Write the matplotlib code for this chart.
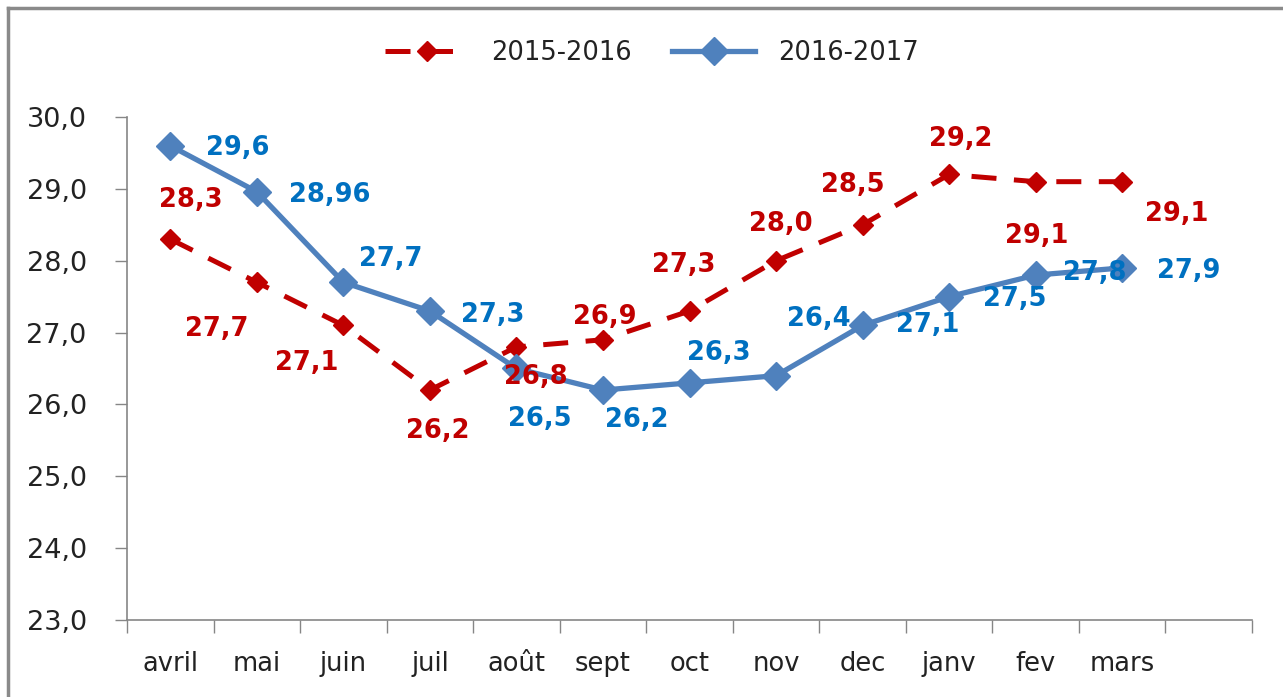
import matplotlib
matplotlib.use("Agg")
import matplotlib.pyplot as plt
from matplotlib.lines import Line2D

months = ["avril", "mai", "juin", "juil", "août", "sept", "oct", "nov", "dec", "janv", "fev", "mars"]
s1_name = "2015-2016"
s2_name = "2016-2017"
s1 = [28.3, 27.7, 27.1, 26.2, 26.8, 26.9, 27.3, 28.0, 28.5, 29.2, 29.1, 29.1]
s2 = [29.6, 28.96, 27.7, 27.3, 26.5, 26.2, 26.3, 26.4, 27.1, 27.5, 27.8, 27.9]
yticks = [23.0, 24.0, 25.0, 26.0, 27.0, 28.0, 29.0, 30.0]

# label offsets in pixels (dx, dy) relative to each point (dy positive = up)
off1 = [(20, 39), (-40, -47), (-37, -38), (8, -41), (19, -30), (2, 23), (-6, 46),
        (5, 37), (-10, 40), (12, 35), (1, -54), (54, -32)]
off2 = [(67, -2), (73, -3), (47, 23), (63, -4), (23, -51), (34, -30), (29, 30),
        (43, 57), (65, 0), (66, -2), (59, 2), (66, -3)]

RED = "#C00000"
BLUE_LINE = "#4F81BD"
BLUE_TXT = "#0070C0"
GREY = "#868686"

def fmt(v):
    s = f"{v:.2f}".rstrip("0")
    if s.endswith("."):
        s += "0"
    return s.replace(".", ",")

W, H = 1283, 697
fig = plt.figure(figsize=(W / 100, H / 100), dpi=100)
fig.patch.set_facecolor("white")

# outer frame (top and left visible)
fig.add_artist(Line2D([8 / W, 1.0], [1 - 8 / H, 1 - 8 / H], transform=fig.transFigure,
                      color="#8a8a8a", lw=2.5))
fig.add_artist(Line2D([8 / W, 8 / W], [0, 1 - 8 / H], transform=fig.transFigure,
                      color="#8a8a8a", lw=2.5))

ax = fig.add_axes([127 / W, 1 - 620 / H, (1252 - 127) / W, (620 - 117) / H])
x = list(range(len(months)))

ax.plot(x, s1, color=RED, lw=3.6, ls=(0, (5, 3.5)), marker="D", ms=10,
        markeredgecolor=RED, markerfacecolor=RED, label=s1_name, zorder=3)
ax.plot(x, s2, color=BLUE_LINE, lw=3.8, ls="-", marker="D", ms=14,
        markeredgecolor=BLUE_LINE, markerfacecolor=BLUE_LINE, label=s2_name, zorder=4)

for i, v in enumerate(s1):
    ax.annotate(fmt(v), (i, v), xytext=off1[i], textcoords="offset pixels",
                ha="center", va="center", color=RED, fontsize=18.5, fontweight="bold", zorder=5)
for i, v in enumerate(s2):
    ax.annotate(fmt(v), (i, v), xytext=off2[i], textcoords="offset pixels",
                ha="center", va="center", color=BLUE_TXT, fontsize=18.5, fontweight="bold", zorder=5)

ax.set_xlim(-0.5, len(months) + 0.5)
ax.set_ylim(23, 30)
ax.set_yticks(yticks)
ax.set_yticklabels([f"{t:.1f}".replace(".", ",") for t in yticks], fontsize=19.5, color="#222222")
ax.set_xticks(x)
ax.set_xticklabels(months, fontsize=18.5, color="#222222")
ax.tick_params(axis="x", which="major", length=0, pad=22)
ax.set_xticks([i - 0.5 for i in range(len(months) + 2)], minor=True)
ax.tick_params(axis="x", which="minor", length=9, width=1, color=GREY, direction="out")
ax.tick_params(axis="y", which="major", length=9, width=1, color=GREY, direction="out", pad=20)

for side in ["top", "right"]:
    ax.spines[side].set_visible(False)
for side in ["left", "bottom"]:
    ax.spines[side].set_color(GREY)
    ax.spines[side].set_linewidth(1.2)

leg = fig.legend(loc="center", bbox_to_anchor=(652 / W, 1 - 53 / H), ncol=2, frameon=False,
                 fontsize=18.5, handlelength=3.2, columnspacing=1.6, handletextpad=0.9)
for t in leg.get_texts():
    t.set_color("#222222")

fig.savefig("out.png", dpi=100, facecolor="white")
